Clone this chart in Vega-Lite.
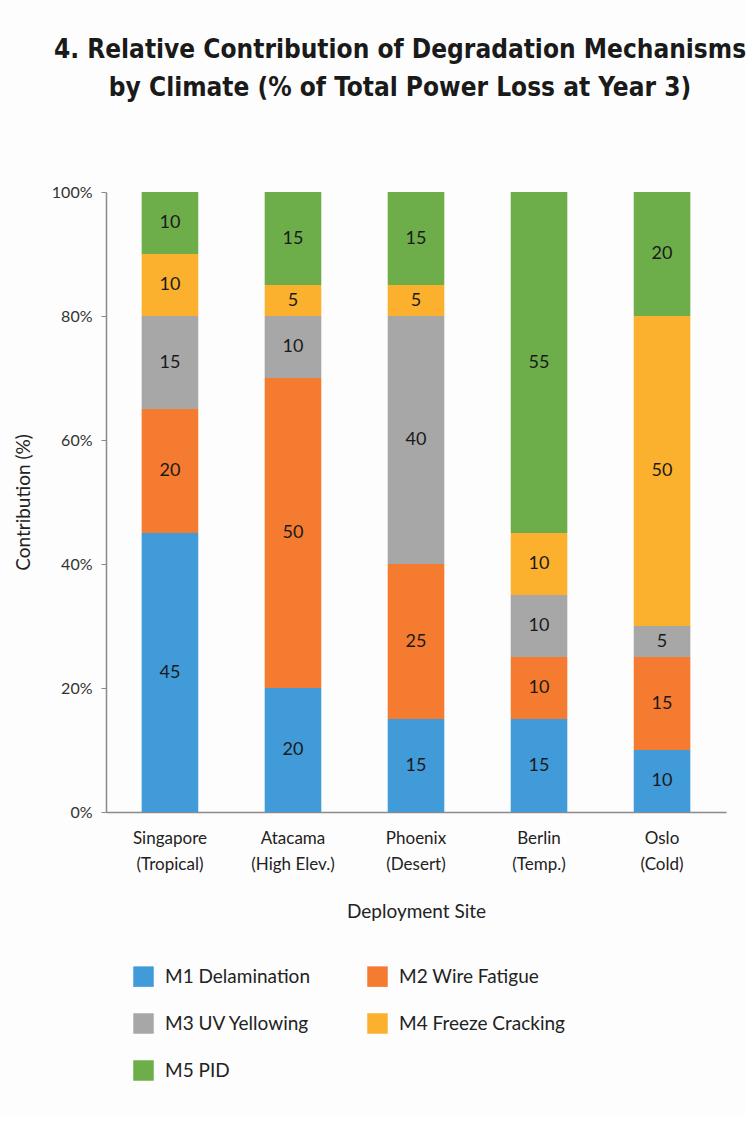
{
  "$schema": "https://vega.github.io/schema/vega-lite/v6.json",
  "width": 620,
  "height": 620,
  "autosize": {"type": "none"},
  "padding": {"left": 106, "top": 192, "right": 20, "bottom": 303},
  "background": "#fdfdfd",
  "title": {
    "text": ["4. Relative Contribution of Degradation Mechanisms", "by Climate (% of Total Power Loss at Year 3)"],
    "font": "DejaVu Sans Condensed",
    "fontSize": 26,
    "fontWeight": "bold",
    "color": "#1a1a1a",
    "anchor": "middle",
    "frame": "group",
    "dx": -16,
    "offset": 83,
    "lineHeight": 38
  },
  "data": {
    "values": [
      {"site": "Singapore (Tropical)", "mech": "M1 Delamination", "ord": 1, "v": 45},
      {"site": "Singapore (Tropical)", "mech": "M2 Wire Fatigue", "ord": 2, "v": 20},
      {"site": "Singapore (Tropical)", "mech": "M3 UV Yellowing", "ord": 3, "v": 15},
      {"site": "Singapore (Tropical)", "mech": "M4 Freeze Cracking", "ord": 4, "v": 10},
      {"site": "Singapore (Tropical)", "mech": "M5 PID", "ord": 5, "v": 10},
      {"site": "Atacama (High Elev.)", "mech": "M1 Delamination", "ord": 1, "v": 20},
      {"site": "Atacama (High Elev.)", "mech": "M2 Wire Fatigue", "ord": 2, "v": 50},
      {"site": "Atacama (High Elev.)", "mech": "M3 UV Yellowing", "ord": 3, "v": 10},
      {"site": "Atacama (High Elev.)", "mech": "M4 Freeze Cracking", "ord": 4, "v": 5},
      {"site": "Atacama (High Elev.)", "mech": "M5 PID", "ord": 5, "v": 15},
      {"site": "Phoenix (Desert)", "mech": "M1 Delamination", "ord": 1, "v": 15},
      {"site": "Phoenix (Desert)", "mech": "M2 Wire Fatigue", "ord": 2, "v": 25},
      {"site": "Phoenix (Desert)", "mech": "M3 UV Yellowing", "ord": 3, "v": 40},
      {"site": "Phoenix (Desert)", "mech": "M4 Freeze Cracking", "ord": 4, "v": 5},
      {"site": "Phoenix (Desert)", "mech": "M5 PID", "ord": 5, "v": 15},
      {"site": "Berlin (Temp.)", "mech": "M1 Delamination", "ord": 1, "v": 15},
      {"site": "Berlin (Temp.)", "mech": "M2 Wire Fatigue", "ord": 2, "v": 10},
      {"site": "Berlin (Temp.)", "mech": "M3 UV Yellowing", "ord": 3, "v": 10},
      {"site": "Berlin (Temp.)", "mech": "M4 Freeze Cracking", "ord": 4, "v": 10},
      {"site": "Berlin (Temp.)", "mech": "M5 PID", "ord": 5, "v": 55},
      {"site": "Oslo (Cold)", "mech": "M1 Delamination", "ord": 1, "v": 10},
      {"site": "Oslo (Cold)", "mech": "M2 Wire Fatigue", "ord": 2, "v": 15},
      {"site": "Oslo (Cold)", "mech": "M3 UV Yellowing", "ord": 3, "v": 5},
      {"site": "Oslo (Cold)", "mech": "M4 Freeze Cracking", "ord": 4, "v": 50},
      {"site": "Oslo (Cold)", "mech": "M5 PID", "ord": 5, "v": 20}
    ]
  },
  "transform": [
    {"stack": "v", "groupby": ["site"], "sort": [{"field": "ord", "order": "ascending"}], "as": ["y0", "y1"], "offset": "normalize"},
    {"calculate": "(datum.y0 + datum.y1) / 2", "as": "ymid"}
  ],
  "encoding": {
    "x": {
      "field": "site",
      "type": "nominal",
      "sort": null,
      "title": "Deployment Site",
      "scale": {"paddingInner": 0.54, "paddingOuter": 0.29},
      "axis": {
        "labelAngle": 0,
        "labelExpr": "[split(datum.label, ' (')[0], '(' + split(datum.label, ' (')[1]]",
        "labelFont": "Lato, sans-serif",
        "labelFontSize": 17,
        "labelColor": "#222",
        "labelLineHeight": 26,
        "labelPadding": 18,
        "ticks": false,
        "domainColor": "#8a8a8a",
        "domainWidth": 1.5,
        "titleFont": "Lato, sans-serif",
        "titleFontSize": 19,
        "titleFontWeight": "normal",
        "titleColor": "#222",
        "titlePadding": 30
      }
    }
  },
  "layer": [
    {
      "mark": {"type": "bar"},
      "encoding": {
        "y": {
          "field": "y0",
          "type": "quantitative",
          "scale": {"domain": [0, 1]},
          "title": "Contribution (%)",
          "axis": {
            "values": [0, 0.2, 0.4, 0.6, 0.8, 1],
            "format": ".0%",
            "grid": false,
            "labelFont": "Lato, sans-serif",
            "labelFontSize": 16,
            "labelColor": "#333",
            "labelPadding": 9,
            "tickColor": "#8a8a8a",
            "tickSize": 5,
            "domainColor": "#8a8a8a",
            "domainWidth": 1.5,
            "titleFont": "Lato, sans-serif",
            "titleFontSize": 19,
            "titleFontWeight": "normal",
            "titleColor": "#222",
            "titlePadding": 18
          }
        },
        "y2": {"field": "y1"},
        "color": {
          "field": "mech",
          "type": "nominal",
          "sort": ["M1 Delamination", "M2 Wire Fatigue", "M3 UV Yellowing", "M4 Freeze Cracking", "M5 PID"],
          "scale": {
            "domain": ["M1 Delamination", "M2 Wire Fatigue", "M3 UV Yellowing", "M4 Freeze Cracking", "M5 PID"],
            "range": ["#409BD8", "#F57B30", "#A7A7A7", "#FBB12E", "#6DAE4B"]
          },
          "legend": {
            "title": null,
            "orient": "none",
            "legendX": 27,
            "legendY": 774,
            "direction": "horizontal",
            "columns": 2,
            "columnPadding": 57,
            "rowPadding": 26,
            "symbolType": "square",
            "symbolSize": 420,
            "symbolStrokeWidth": 0,
            "labelFont": "Lato, sans-serif",
            "labelFontSize": 19,
            "labelColor": "#222",
            "labelOffset": 11,
            "labelLimit": 300
          }
        }
      }
    },
    {
      "mark": {"type": "text", "font": "Lato, sans-serif", "fontSize": 18, "color": "#1a1a1a", "baseline": "middle"},
      "encoding": {
        "y": {"field": "ymid", "type": "quantitative"},
        "text": {"field": "v", "type": "quantitative"}
      }
    }
  ],
  "config": {
    "view": {"stroke": null}
  }
}
